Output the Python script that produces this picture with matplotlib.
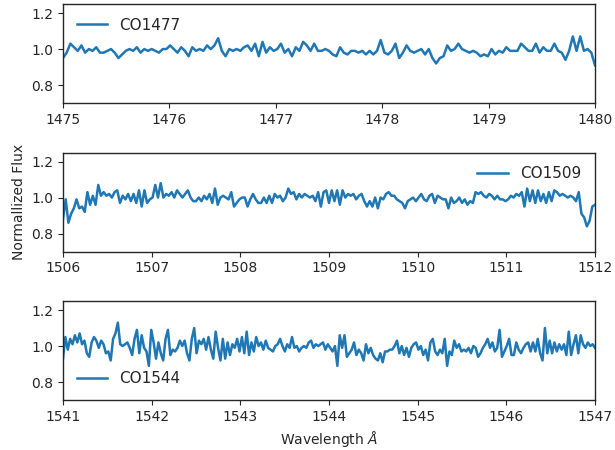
import numpy as np
import matplotlib
matplotlib.use('Agg')
import matplotlib.pyplot as plt

# normalized flux
co1477 = [0.95, 0.98, 1.03, 1.01, 0.99, 1.02, 0.98, 1.00, 0.99, 1.01,
          0.98, 0.98, 0.99, 1.00, 0.98, 0.95, 0.97, 0.99, 1.00, 0.99,
          1.01, 0.98, 1.00, 0.99, 1.00, 0.99, 0.98, 1.00, 1.00, 1.02,
          1.00, 0.98, 1.01, 0.99, 0.96, 1.01, 0.99, 1.00, 0.99, 1.02,
          1.00, 1.02, 1.06, 0.99, 0.96, 1.00, 0.99, 1.00, 0.99, 1.01,
          1.02, 0.99, 1.03, 0.96, 1.04, 0.98, 1.01, 0.99, 1.00, 1.03,
          0.98, 1.00, 0.96, 1.01, 0.99, 1.04, 1.02, 0.99, 1.03, 0.99,
          0.99, 1.00, 0.99, 0.97,
          0.96, 1.01, 0.98, 0.97, 0.99, 0.99, 0.98, 0.99, 0.97, 0.99,
          0.97, 0.99, 1.05, 0.98, 0.97, 0.99, 1.03, 0.95, 0.98, 1.02,
          0.99, 0.98, 0.99, 1.00, 0.97, 1.00, 0.95, 0.92, 0.95, 0.96,
          1.02, 0.99, 1.00, 1.03, 1.00, 0.99, 0.98, 0.99, 0.98, 0.96,
          0.97, 0.96, 1.00, 0.97, 0.99, 0.98, 1.01, 0.99, 0.99, 0.99,
          1.03, 1.01, 0.99, 0.99, 1.03, 0.98, 1.01, 0.99, 0.99, 1.03,
          0.99, 0.98, 0.94, 0.99, 1.07, 0.99, 1.07, 0.99, 1.00, 0.98,
          0.91]

co1509 = [0.88, 0.99, 0.86, 0.91, 0.94, 0.99, 0.94, 0.95, 0.92, 1.03,
          0.96, 1.01, 0.96, 1.07, 1.01, 1.03, 1.01, 1.02, 1.00, 1.03,
          1.04, 0.97, 1.01, 0.99, 1.02, 0.98, 1.02, 0.97, 1.04, 0.95,
          1.04, 0.97, 0.99, 1.00, 1.07, 1.00, 1.08, 1.00, 1.02, 1.01,
          1.03, 1.00, 1.04, 1.02, 1.00, 1.02, 1.04, 1.00, 0.98, 0.98,
          1.00, 0.98, 1.01, 0.99, 1.02, 0.97, 1.05, 0.96, 1.00, 1.01,
          1.00, 0.99, 1.03, 0.95, 0.97, 0.99, 1.00, 1.00, 0.95, 0.99,
          1.02, 0.99, 0.97, 0.97, 1.00, 0.97, 1.01, 0.97, 1.02, 1.00,
          1.01, 0.98, 1.00, 1.05, 1.02, 1.03, 0.99, 1.02, 1.00, 1.02,
          1.01, 1.00, 1.01, 0.98, 1.03, 0.95, 1.03,
          1.04, 0.97, 1.04, 0.98, 1.04, 0.96, 1.04, 1.00, 1.02, 1.01,
          1.02, 0.99, 1.01, 1.02, 0.98, 0.95, 0.98, 0.95, 1.00, 0.94,
          1.00, 0.99, 1.02, 1.03, 1.01, 1.01, 0.99, 0.98, 0.97, 0.94,
          0.98, 0.99, 1.00, 0.98, 1.00, 1.02, 0.99, 0.98, 1.01, 1.02,
          0.97, 1.01, 1.00, 0.99, 0.99, 0.94, 1.00, 0.97, 0.98, 1.00,
          0.97, 0.99, 0.96, 0.98, 0.97, 1.03, 1.02, 1.03, 1.01, 1.00,
          1.02, 1.01, 0.99, 1.01, 0.99, 0.99, 0.98, 0.99, 1.01, 1.00,
          1.02, 1.01, 1.03, 0.95, 1.05, 0.98, 1.04, 0.97, 1.04, 0.98,
          1.02, 0.97, 1.03, 0.98, 1.04, 1.03, 1.01, 1.02, 1.01, 1.00,
          1.01, 1.00, 0.98, 1.03, 0.91, 0.89, 0.84, 0.87, 0.95, 0.96]

co1544 = [0.93, 1.05, 0.98, 1.04, 1.01, 1.06, 1.02, 1.07, 1.01, 1.03,
          0.96, 0.94, 1.02, 1.05, 1.03, 0.99, 1.03, 1.01, 0.96, 0.97,
          0.92, 1.04, 1.07, 1.13, 1.01, 1.00, 1.01, 1.02, 0.99, 0.95,
          1.04, 1.09, 0.96, 1.06, 0.99, 0.97, 0.89, 1.09, 1.02, 0.93,
          1.02, 0.96, 0.92, 1.04, 1.09, 0.95, 0.98, 0.97, 0.99, 1.03,
          1.00, 1.03, 0.96, 0.92, 1.04, 1.10, 0.96, 1.03, 1.01, 1.04,
          0.98, 1.05, 0.98, 0.93, 1.08, 0.99, 0.92, 1.04, 0.93, 1.02,
          0.95, 1.01, 0.99, 1.04, 0.97, 1.05, 0.96, 1.08, 0.95, 1.02,
          0.97, 1.05, 1.00, 1.02, 0.98, 1.03, 0.99, 0.98, 0.97, 1.00,
          1.01, 1.04, 1.00, 0.97, 1.01, 0.99, 1.05, 0.99, 1.00, 0.97,
          0.99, 1.00, 0.99, 1.02, 1.03, 0.99, 1.01, 1.00, 1.01, 1.02,
          0.98, 1.01, 0.99, 0.97, 1.00, 0.89, 1.06,
          0.99, 1.06, 0.94, 0.96, 0.98, 1.02, 0.95, 0.98, 0.96, 0.92,
          1.01, 0.96, 0.99, 0.95, 0.93, 0.92, 0.96, 0.91, 0.97, 0.97,
          0.98, 0.98, 1.00, 1.03, 0.96, 1.00, 0.95, 0.99, 0.94, 0.99,
          1.01, 1.02, 0.98, 1.00, 0.95, 0.98, 0.92, 1.02, 1.04, 0.97,
          0.95, 0.98, 0.96, 1.04, 0.89, 0.97, 0.95, 1.03, 0.99, 1.01,
          0.97, 0.98, 0.97, 0.99, 0.96, 1.00, 0.99, 0.94, 0.96, 0.99,
          1.01, 1.04, 0.99, 1.02, 0.97, 0.99, 1.09, 0.94, 0.97, 1.00,
          1.04, 0.95, 0.95, 1.02, 0.98, 0.96, 0.99, 1.01, 1.02, 0.97,
          1.02, 0.97, 1.04, 0.96, 0.92, 1.10, 0.96, 1.03, 0.96, 1.02,
          0.97, 1.01, 0.98, 1.01, 0.95, 1.08, 0.95, 1.01, 1.06, 0.96,
          1.06, 1.01, 0.99, 1.02, 1.00, 1.01, 0.99]

names = ['CO1477', 'CO1509', 'CO1544']
starts = [1475, 1506, 1541]
ends = [1480, 1512, 1547]
legend_loc = ['upper left', 'upper right', 'lower left']

plt.rcParams['font.family'] = 'DejaVu Sans'
plt.rcParams['font.size'] = 10
plt.rcParams['text.color'] = '.15'
plt.rcParams['axes.labelcolor'] = '.15'
plt.rcParams['axes.edgecolor'] = '.15'
plt.rcParams['xtick.color'] = '.15'
plt.rcParams['ytick.color'] = '.15'

fig, axes = plt.subplots(3, 1, figsize=(6.15, 4.5), dpi=100)
fig.subplots_adjust(left=0.1024, right=0.9675, top=0.991, bottom=0.111, hspace=0.5)

fluxes = [co1477, co1509, co1544]
for ax, flux, name, a, b, loc in zip(axes, fluxes, names, starts, ends, legend_loc):
    wl = np.linspace(a, b, len(flux))
    ax.plot(wl, flux, color='#1f77b4', lw=1.8, label=name)
    ax.set_xlim(a, b)
    ax.set_ylim(0.7, 1.25)
    ax.set_yticks([0.8, 1.0, 1.2])
    ax.set_xticks(np.arange(a, b + 1))
    ax.legend(loc=loc, frameon=False, fontsize=11)
    for s in ax.spines.values():
        s.set_linewidth(1.0)

axes[1].set_ylabel('Normallized Flux')
axes[2].set_xlabel('Wavelength $\\AA$')

fig.savefig('out.png', dpi=100)
